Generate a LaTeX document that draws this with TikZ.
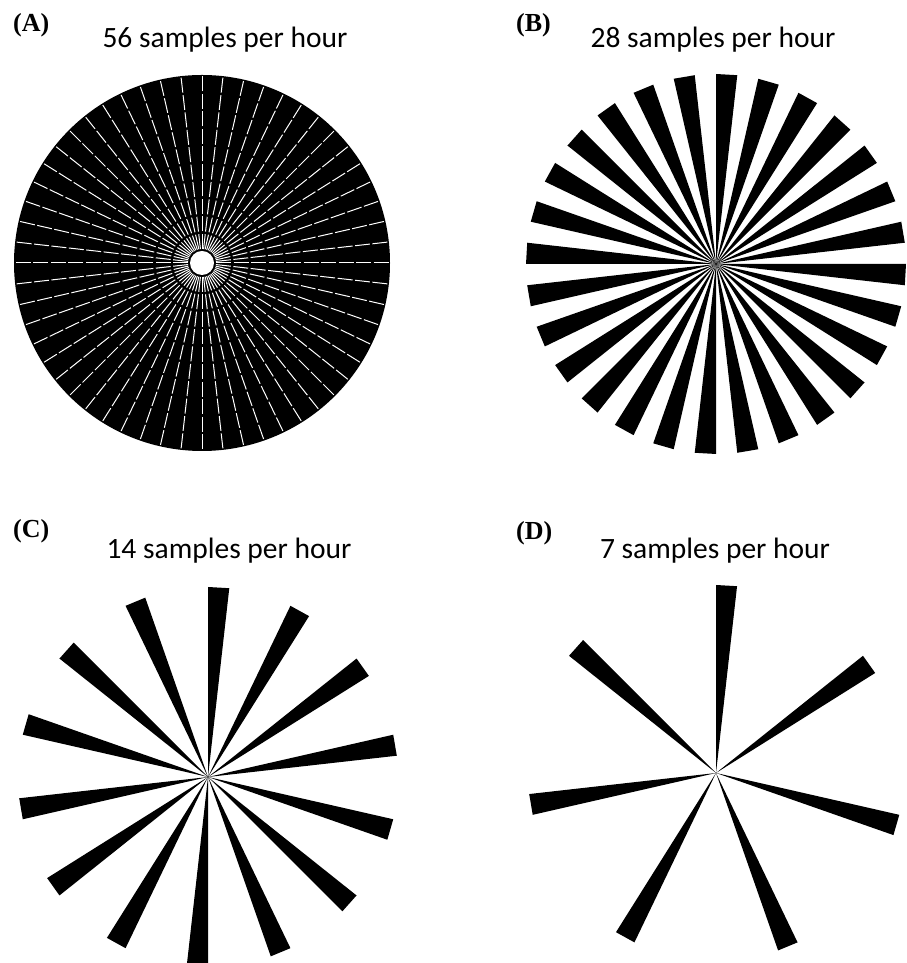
\documentclass[tikz,border=0pt]{standalone}
\usepackage{fontspec}
\setmainfont{Liberation Serif}
\newfontfamily\titlefont{Carlito}
\usetikzlibrary{positioning}

\begin{document}
\begin{tikzpicture}[
    x=1pt, y=1pt,
    panel label/.style={anchor=base west, inner sep=0pt,
        font=\fontsize{26}{26}\selectfont\bfseries},
    panel title/.style={anchor=base, inner sep=0pt,
        font=\titlefont\fontsize{29.5}{29.5}\selectfont},
    spoke/.style={white, line width=1, dash pattern=on 15 off 2.5},
]
    \useasboundingbox (0,0) rectangle (906,963);

    % labels and titles
    \node[panel label] (labA) at (13,931) {(A)};
    \node[panel label] (labB) at (516,931) {(B)};
    \node[panel label] (labC) at (13,425) {(C)};
    \node[panel label] (labD) at (516,423) {(D)};
    \node[panel title] (titA) at (225,915) {56 samples per hour};
    \node[panel title] (titB) at (713,915) {28 samples per hour};
    \node[panel title] (titC) at (229,404) {14 samples per hour};
    \node[panel title] (titD) at (715,404) {7 samples per hour};

    % one sample = 360/56 = 6.428571 degrees
    % (A) 56 wedges, only thin gaps left between them
    \begin{scope}[shift={(202,700)}]
        \fill (0,0) circle (188);
        \foreach \k [evaluate=\k as \a using 90-\k*6.428571] in {0,...,55}
            \draw[spoke] (\a:14) -- (\a:188);
        \fill[white] (0,0) circle (12);
    \end{scope}

    % (B) 28 wedges
    \begin{scope}[shift={(716,699)}]
        \foreach \k [evaluate=\k as \a using 90-\k*12.857143] in {0,...,27}
            \fill (0,0) -- (\a:190) -- ({\a-6.428571}:190) -- cycle;
    \end{scope}

    % (C) 14 wedges
    \begin{scope}[shift={(208,186)}]
        \foreach \k [evaluate=\k as \a using 90-\k*25.714286] in {0,...,13}
            \fill (0,0) -- (\a:190) -- ({\a-6.428571}:190) -- cycle;
    \end{scope}

    % (D) 7 wedges
    \begin{scope}[shift={(716,190)}]
        \foreach \k [evaluate=\k as \a using 90-\k*51.428571] in {0,...,6}
            \fill (0,0) -- (\a:188) -- ({\a-6.428571}:188) -- cycle;
    \end{scope}
\end{tikzpicture}
\end{document}
